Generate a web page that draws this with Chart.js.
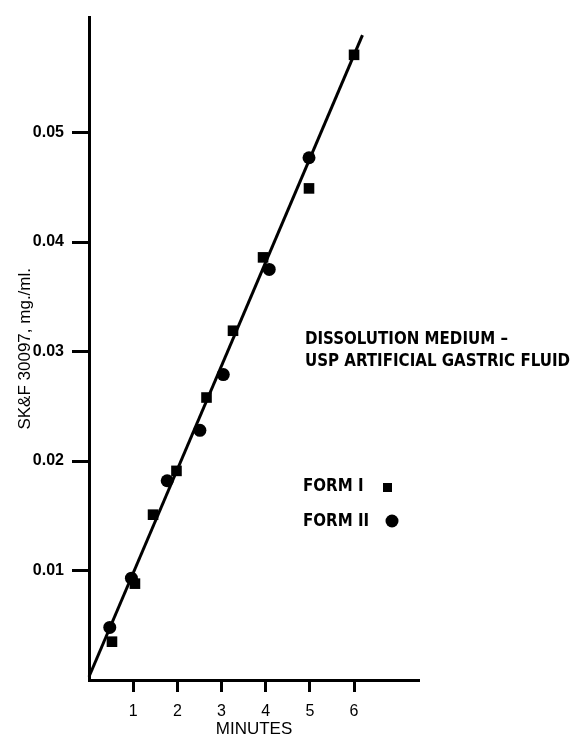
<!DOCTYPE html>
<html>
<head>
<meta charset="utf-8">
<title>Dissolution rate - SK&amp;F 30097</title>
<script src="https://cdn.jsdelivr.net/npm/chart.js@4/dist/chart.umd.min.js"></script>
<style>
  html, body { margin: 0; padding: 0; background: #fff; }
  #wrap { position: relative; width: 576px; height: 738px; }
</style>
</head>
<body>
<div id="wrap"><canvas id="dissolution-chart"></canvas></div>
<script>
// Values (minutes, mg./ml.)
const formIMinutes = [0.52, 1.04, 1.45, 1.98, 2.66, 3.26, 3.94, 4.98, 6.0];
const formIConc = [0.0035, 0.0088, 0.0151, 0.0191, 0.0258, 0.0319, 0.0386, 0.0449, 0.0571];
const formIIMinutes = [0.47, 0.96, 1.77, 2.51, 3.04, 4.08, 4.98];
const formIIConc = [0.0048, 0.0093, 0.0182, 0.0228, 0.0279, 0.0375, 0.0477];
// fitted line, both ends
const fitMinutes = [0, 6.19];
const fitConc = [0.0003, 0.0589];

const xTicks = [1, 2, 3, 4, 5, 6];
const yTicks = [0.01, 0.02, 0.03, 0.04, 0.05];
const xMax = 7.47;
const yMax = 0.0605;

const mediumLines = ['DISSOLUTION MEDIUM \u2013', 'USP ARTIFICIAL GASTRIC FLUID'];
const formLabels = ['FORM I', 'FORM II'];

function toPoints(xs, ys) {
  return xs.map((x, i) => ({ x: x, y: ys[i] }));
}

Chart.defaults.font.family = "'Liberation Sans', Arial, sans-serif";
Chart.defaults.color = '#000';

// draws the medium caption and the little form key on the right
const notesPlugin = {
  id: 'notes',
  afterDraw(chart) {
    const ctx = chart.ctx;
    ctx.save();
    ctx.fillStyle = '#000';
    ctx.font = "bold 18px 'Liberation Sans Narrow', 'DejaVu Sans Condensed', 'Liberation Sans', sans-serif";
    ctx.textBaseline = 'middle';
    ctx.textAlign = 'left';
    // squeeze text so the long line is ~265px wide
    const squeeze = Math.min(1, 265 / ctx.measureText(mediumLines[1]).width);
    const lineY = [339, 361];
    mediumLines.forEach((txt, i) => {
      ctx.save();
      ctx.translate(305, lineY[i]);
      ctx.scale(squeeze, 1);
      ctx.fillText(txt, 0, 0);
      ctx.restore();
    });

    const keyY = [486, 521];
    formLabels.forEach((txt, i) => {
      ctx.save();
      ctx.translate(303, keyY[i]);
      ctx.scale(squeeze, 1);
      ctx.fillText(txt, 0, 0);
      ctx.restore();
    });
    // key markers
    ctx.fillRect(383, 483, 9, 9);
    ctx.beginPath();
    ctx.arc(392, 521, 6.5, 0, Math.PI * 2);
    ctx.fill();
    ctx.restore();
  }
};

new Chart(document.getElementById('dissolution-chart'), {
  type: 'scatter',
  data: {
    datasets: [
      {
        label: 'Fit',
        data: toPoints(fitMinutes, fitConc),
        showLine: true,
        borderColor: '#000',
        borderWidth: 3,
        pointRadius: 0,
        fill: false,
        order: 2
      },
      {
        label: 'FORM I',
        data: toPoints(formIMinutes, formIConc),
        pointStyle: 'rect',
        pointRadius: 7.5,
        backgroundColor: '#000',
        borderColor: '#000',
        borderWidth: 0,
        order: 1
      },
      {
        label: 'FORM II',
        data: toPoints(formIIMinutes, formIIConc),
        pointStyle: 'circle',
        pointRadius: 6.5,
        backgroundColor: '#000',
        borderColor: '#000',
        borderWidth: 0,
        order: 0
      }
    ]
  },
  options: {
    responsive: true,
    maintainAspectRatio: false,
    animation: false,
    clip: false,
    layout: { padding: { left: 0, right: 157, top: 12, bottom: 0 } },
    plugins: {
      legend: { display: false },
      tooltip: { enabled: false }
    },
    scales: {
      x: {
        type: 'linear',
        min: 0,
        max: xMax,
        afterFit: (scale) => { scale.height = 58; },
        afterBuildTicks: (scale) => { scale.ticks = xTicks.map(v => ({ value: v })); },
        border: { display: true, color: '#000', width: 3 },
        grid: {
          drawOnChartArea: false,
          drawTicks: true,
          tickLength: 12,
          tickWidth: 3,
          tickColor: '#000'
        },
        ticks: {
          padding: 10,
          maxRotation: 0,
          font: { size: 16 },
          callback: (v) => String(v)
        },
        title: {
          display: true,
          text: 'MINUTES',
          font: { size: 17, lineHeight: 1.0 },
          padding: { top: 0, bottom: 0 }
        }
      },
      y: {
        type: 'linear',
        min: 0,
        max: yMax,
        afterFit: (scale) => { scale.width = 89; },
        afterBuildTicks: (scale) => { scale.ticks = yTicks.map(v => ({ value: v })); },
        border: { display: true, color: '#000', width: 3 },
        grid: {
          drawOnChartArea: false,
          drawTicks: true,
          tickLength: 17,
          tickWidth: 3,
          tickColor: '#000'
        },
        ticks: {
          padding: 8,
          font: { size: 16, weight: 'bold' },
          callback: (v) => v.toFixed(2)
        },
        title: {
          display: true,
          text: 'SK&F 30097, mg./ml.',
          font: { size: 17 },
          padding: { top: 15, bottom: 0 }
        }
      }
    }
  },
  plugins: [notesPlugin]
});
</script>
</body>
</html>
